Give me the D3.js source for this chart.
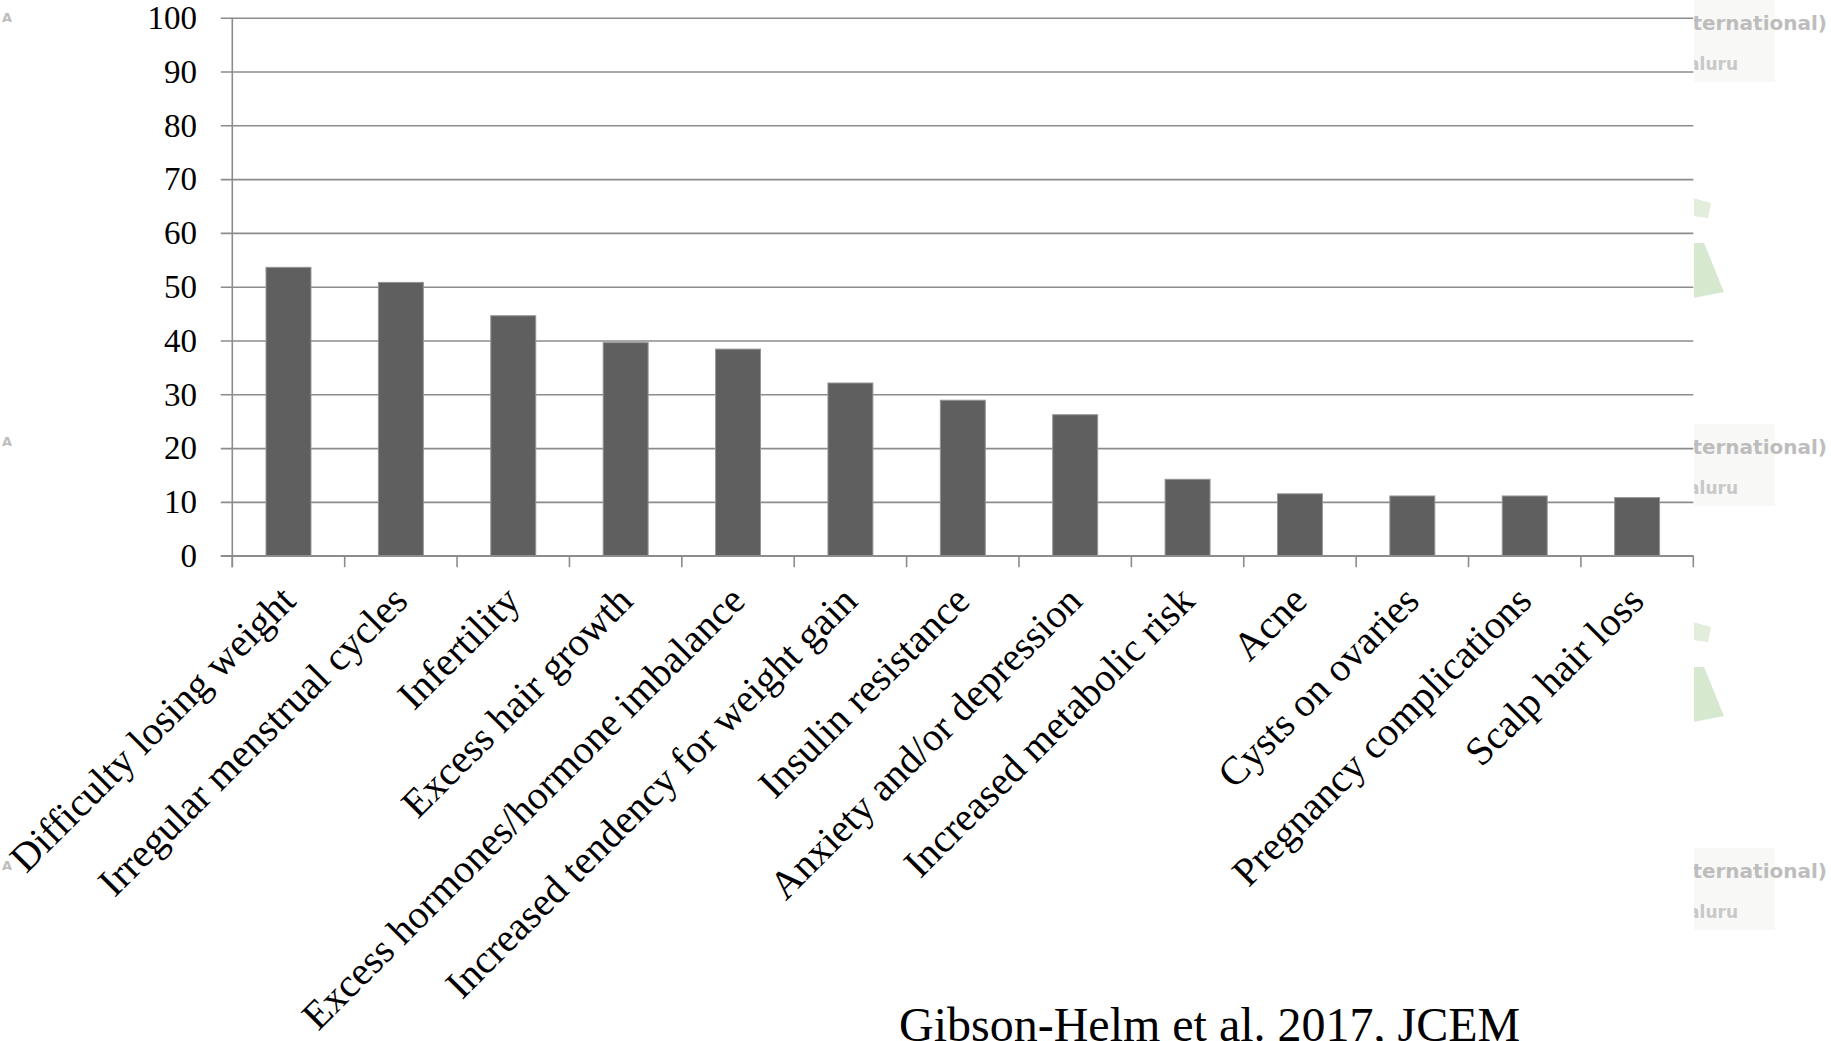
<!DOCTYPE html>
<html>
<head>
<meta charset="utf-8">
<script src="https://cdn.jsdelivr.net/npm/d3@7"></script>
<style>
  html, body { margin: 0; padding: 0; background: #ffffff; }
  svg { display: block; }
</style>
</head>
<body>
<svg id="chart" width="1831" height="1041"></svg>
<script>
// Reported PCOS-related concerns (% of respondents)
const categories = [
  "Difficulty losing weight",
  "Irregular menstrual cycles",
  "Infertility",
  "Excess hair growth",
  "Excess hormones/hormone imbalance",
  "Increased tendency for weight gain",
  "Insulin resistance",
  "Anxiety and/or depression",
  "Increased metabolic risk",
  "Acne",
  "Cysts on ovaries",
  "Pregnancy complications",
  "Scalp hair loss"
];
const values = [53.6, 50.8, 44.6, 39.6, 38.4, 32.1, 28.9, 26.2, 14.2, 11.5, 11.1, 11.1, 10.8];
const yTicks = [0, 10, 20, 30, 40, 50, 60, 70, 80, 90, 100];
const citation = "Gibson-Helm et al. 2017, JCEM";
const watermarkLines = ["(International)", "Bengaluru"];

const W = 1831, H = 1041;
const svg = d3.select("#chart");

const plot = { left: 232.3, right: 1693.3, top: 17.7, bottom: 555.7 };
const tickLen = 11.5;
const gridColor = "#8c8c8c";
const serif = "'Liberation Serif', 'Times New Roman', serif";

// faint slide background showing at the page edges
const bg = svg.append("g");
[0, 424, 848].forEach(off => {
  bg.append("rect").attr("x", 1693).attr("y", off).attr("width", 82).attr("height", 82)
    .attr("fill", "#f8f9f6");
  bg.append("text").attr("x", 1827).attr("y", 30 + off).attr("text-anchor", "end")
    .attr("font-family", "'DejaVu Sans', sans-serif").attr("font-weight", "bold")
    .attr("font-size", 20).attr("fill", "#bdbdbd").text(watermarkLines[0]);
  bg.append("text").attr("x", 1738).attr("y", 70 + off).attr("text-anchor", "end")
    .attr("font-family", "'DejaVu Sans', sans-serif").attr("font-weight", "bold")
    .attr("font-size", 17).attr("fill", "#c8c8c8").text(watermarkLines[1]);
  bg.append("path")
    .attr("d", `M1693,${198 + off} L1711,${203 + off} L1708,${218 + off} L1693,${216 + off} Z`)
    .attr("fill", "#e2eedb");
  bg.append("path")
    .attr("d", `M1693,${243 + off} L1704,${243 + off} L1724,${292 + off} L1693,${298 + off} Z`)
    .attr("fill", "#d6e9ce");
  bg.append("text").attr("x", 12).attr("y", 22 + off).attr("text-anchor", "end")
    .attr("font-family", "'DejaVu Sans', sans-serif").attr("font-weight", "bold")
    .attr("font-size", 13).attr("fill", "#bdbdbd").text("A");
});
// white chart panel
svg.append("rect").attr("x", 12).attr("y", 0).attr("width", 1693.3 - 12 + 0.7).attr("height", H)
  .attr("fill", "#ffffff");

const x = d3.scaleBand()
  .domain(categories)
  .range([plot.left, plot.right])
  .paddingInner(0.6)
  .paddingOuter(0.3);

const y = d3.scaleLinear().domain([0, 100]).range([plot.bottom, plot.top]);

// horizontal gridlines with left tick marks
const yAxis = d3.axisLeft(y)
  .tickValues(yTicks)
  .tickSize(-(plot.right - plot.left + tickLen))
  .tickPadding(0)
  .tickFormat("");
svg.append("g")
  .attr("transform", `translate(${plot.left - tickLen},0)`)
  .call(yAxis)
  .call(g => g.select(".domain").remove())
  .call(g => g.selectAll(".tick line").attr("stroke", gridColor).attr("stroke-width", 1.6));

// y tick labels
svg.append("g").selectAll("text")
  .data(yTicks)
  .join("text")
  .attr("x", 197)
  .attr("y", d => y(d))
  .attr("dy", "0.34em")
  .attr("text-anchor", "end")
  .attr("font-family", serif)
  .attr("font-size", 33)
  .attr("fill", "#000")
  .text(d => d);

// bars
svg.append("g").selectAll("rect")
  .data(values)
  .join("rect")
  .attr("x", (d, i) => x(categories[i]))
  .attr("y", d => y(d))
  .attr("width", x.bandwidth())
  .attr("height", d => y(0) - y(d))
  .attr("fill", "#5f5f5f")
  .attr("stroke", "#959595")
  .attr("stroke-width", 1);

// vertical axis line
svg.append("line")
  .attr("x1", plot.left).attr("x2", plot.left)
  .attr("y1", y(100)).attr("y2", y(0) + tickLen)
  .attr("stroke", gridColor).attr("stroke-width", 1.6);

// category boundary ticks below the baseline
const step = x.step();
const boundaries = d3.range(categories.length + 1).map(i => plot.left + i * step);
svg.append("g").selectAll("line")
  .data(boundaries)
  .join("line")
  .attr("x1", d => d).attr("x2", d => d)
  .attr("y1", y(0)).attr("y2", y(0) + tickLen)
  .attr("stroke", gridColor).attr("stroke-width", 1.6);

// baseline
svg.append("line")
  .attr("x1", plot.left - tickLen).attr("x2", plot.right)
  .attr("y1", y(0)).attr("y2", y(0))
  .attr("stroke", gridColor).attr("stroke-width", 1.6);

// rotated category labels
svg.append("g").selectAll("text")
  .data(categories)
  .join("text")
  .attr("transform", d => `translate(${x(d) + x.bandwidth() / 2 + 9},${603}) rotate(-45)`)
  .attr("text-anchor", "end")
  .attr("font-family", serif)
  .attr("font-size", 40)
  .attr("fill", "#000")
  .text(d => d);

// source note
svg.append("text")
  .attr("x", 899)
  .attr("y", 1041)
  .attr("font-family", serif)
  .attr("font-size", 48)
  .attr("fill", "#000")
  .text(citation);
</script>
</body>
</html>
